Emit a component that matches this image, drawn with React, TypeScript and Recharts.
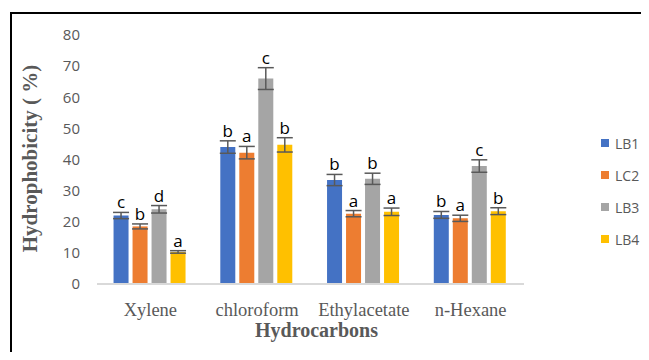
import { BarChart, Bar, XAxis, YAxis, ErrorBar, LabelList, Legend, Label } from "recharts";

const categories = ["Xylene", "chloroform", "Ethylacetate", "n-Hexane"];
const seriesNames = ["LB1", "LC2", "LB3", "LB4"];
const colors = ["#4472C4", "#ED7D31", "#A5A5A5", "#FFC000"];

const lb1 = [22, 44, 33.4, 22.2];
const lc2 = [18.5, 42.2, 22.6, 21.1];
const lb3 = [24, 66, 33.8, 37.9];
const lb4 = [10.3, 44.7, 23.2, 23.4];
const values = [lb1, lc2, lb3, lb4];

const lb1Err = [1, 2, 1.8, 1.1];
const lc2Err = [0.8, 2, 1, 1];
const lb3Err = [1.2, 3.5, 1.8, 2];
const lb4Err = [0.4, 2.3, 1.2, 1.1];
const errors = [lb1Err, lc2Err, lb3Err, lb4Err];

const lb1Sig = ["c", "b", "b", "b"];
const lc2Sig = ["b", "a", "a", "a"];
const lb3Sig = ["d", "c", "b", "c"];
const lb4Sig = ["a", "b", "a", "b"];
const letters = [lb1Sig, lc2Sig, lb3Sig, lb4Sig];

const yTicks = [0, 10, 20, 30, 40, 50, 60, 70, 80];

const rows = categories.map((name, i) => {
  const r: any = { name };
  seriesNames.forEach((s, k) => {
    r[s] = values[k][i];
    r[s + "_err"] = errors[k][i];
  });
  return r;
});

const GRAY = "#595959";
const SERIF = "'Liberation Serif', 'Times New Roman', serif";
const SANS = "'Open Sans', 'Noto Sans', sans-serif";

// significance letter sits just above the error bar cap
function sigLabel(k: number) {
  return (props: any) => {
    const { x, y, width, height, index } = props;
    const pxPerUnit = height / values[k][index];
    const top = y - errors[k][index] * pxPerUnit;
    return (
      <text x={x + width / 2} y={top - 4} textAnchor="middle" fontFamily={SANS} fontSize={17} fill="#000">
        {letters[k][index]}
      </text>
    );
  };
}

function LegendBox() {
  return (
    <div style={{ fontFamily: SANS, fontSize: 14, color: GRAY }}>
      {seriesNames.map((s, k) => (
        <div key={s} style={{ display: "flex", alignItems: "center", height: 32 }}>
          <span style={{ width: 8, height: 8, background: colors[k], marginRight: 6, display: "inline-block" }} />
          {s}
        </div>
      ))}
    </div>
  );
}

export default function App() {
  return (
    <div style={{ margin: -8, width: 649, height: 360, position: "relative", overflow: "hidden", background: "#fff" }}>
      <div
        style={{
          position: "absolute",
          left: 10,
          top: 12,
          width: 700,
          height: 400,
          borderLeft: "2px solid #000",
          borderTop: "2px solid #000",
        }}
      />
      <div style={{ position: "absolute", left: 0, top: 0 }}>
        <BarChart
          width={649}
          height={360}
          data={rows}
          margin={{ top: 35, right: 77, left: 0, bottom: 26 }}
          barCategoryGap="15.5%"
          barGap={4}
        >
          <XAxis
            dataKey="name"
            tickLine={false}
            axisLine={{ stroke: "#d9d9d9", strokeWidth: 2 }}
            tick={{ fontFamily: SERIF, fontSize: 18.5, fill: GRAY }}
            tickMargin={13}
            height={50}
          >
            <Label
              content={(p: any) => {
                const vb = p.viewBox;
                return (
                  <text
                    x={vb.x + vb.width / 2 + 6}
                    y={vb.y + 53}
                    textAnchor="middle"
                    fontFamily={SERIF}
                    fontWeight="bold"
                    fontSize={20}
                    fill={GRAY}
                  >
                    Hydrocarbons
                  </text>
                );
              }}
            />
          </XAxis>
          <YAxis
            domain={[0, 80]}
            ticks={yTicks}
            width={97}
            tickLine={false}
            axisLine={false}
            tick={{ fontFamily: SANS, fontSize: 15, fill: GRAY }}
            tickMargin={11}
          >
            <Label
              content={(p: any) => {
                const vb = p.viewBox;
                const cx = 32;
                const cy = vb.y + vb.height / 2 - 1;
                return (
                  <text
                    x={cx}
                    y={cy}
                    transform={`rotate(-90 ${cx} ${cy})`}
                    textAnchor="middle"
                    dominantBaseline="middle"
                    fontFamily={SERIF}
                    fontWeight="bold"
                    fontSize={21}
                    fill={GRAY}
                  >
                    Hydrophobicity ( %)
                  </text>
                );
              }}
            />
          </YAxis>
          <Legend
            layout="vertical"
            align="right"
            verticalAlign="top"
            content={() => <LegendBox />}
            wrapperStyle={{ position: "absolute", left: 601, top: 127, width: 48 }}
          />
          {seriesNames.map((s, k) => (
            <Bar key={s} dataKey={s} fill={colors[k]} isAnimationActive={false}>
              <ErrorBar dataKey={s + "_err"} stroke={GRAY} strokeWidth={1.5} width={8} />
              <LabelList dataKey={s} content={sigLabel(k)} />
            </Bar>
          ))}
        </BarChart>
      </div>
    </div>
  );
}
